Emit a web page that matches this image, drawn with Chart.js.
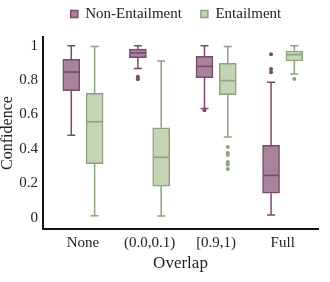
<!DOCTYPE html>
<html><head><meta charset="utf-8">
<script src="https://cdn.jsdelivr.net/npm/chart.js@4"></script>
<style>html,body{margin:0;padding:0;background:#fff}#wrap{width:330px;height:282px;position:relative}</style>
</head><body><div id="wrap"><canvas id="c"></canvas></div>
<script>
const categories = ['None', '(0.0,0.1)', '[0.9,1)', 'Full'];
const seriesNames = ['Non-Entailment', 'Entailment'];

const neMin = [0.48, 0.868, 0.635, 0.015];
const neQ1  = [0.738, 0.93, 0.814, 0.142];
const neMed = [0.847, 0.958, 0.88, 0.246];
const neQ3  = [0.921, 0.98, 0.938, 0.421];
const neMax = [1.0, 1.0, 1.0, 0.787];
const neOutliers = [[], [0.82, 0.805], [0.625], [0.95, 0.865, 0.845]];

const eMin = [0.012, 0.01, 0.469, 0.835];
const eQ1  = [0.314, 0.184, 0.715, 0.911];
const eMed = [0.558, 0.351, 0.797, 0.948];
const eQ3  = [0.723, 0.523, 0.898, 0.969];
const eMax = [0.995, 0.911, 0.995, 1.0];
const eOutliers = [[], [], [0.411, 0.376, 0.365, 0.324, 0.31, 0.283], [0.806]];

const tickValues = [0, 0.2, 0.4, 0.6, 0.8, 1];
const tickLabels = ['0', '0.2', '0.4', '0.6', '0.8', '1'];

const OFF = 0.175;
const NE_FILL = '#a9829c', NE_LINE = '#7a4a6b';
const E_FILL = '#c4d4b4', E_LINE = '#8da27e';
const FONT = 'Liberation Serif';

function boxData(q1, q3, sign) {
  return categories.map((c, i) => ({x: i + sign * OFF, y: [q1[i], q3[i]]}));
}
function outlierData(out, sign) {
  const a = [];
  out.forEach((arr, i) => arr.forEach(v => a.push({x: i + sign * OFF, y: v})));
  return a;
}

const stats = [
  {min: neMin, med: neMed, max: neMax, q1: neQ1, q3: neQ3, color: NE_LINE},
  {min: eMin, med: eMed, max: eMax, q1: eQ1, q3: eQ3, color: E_LINE}
];

const boxPlugin = {
  id: 'boxparts',
  afterLayout(chart) {
    const lg = chart.legend;
    if (lg) { lg.left += 17; lg.right += 17; lg.top -= 5.5; lg.bottom -= 5.5; }
  },
  beforeDatasetsDraw(chart) {
    const ctx = chart.ctx, y = chart.scales.y;
    ctx.save();
    stats.forEach((s, d) => {
      const meta = chart.getDatasetMeta(d);
      meta.data.forEach((bar, i) => {
        const x = bar.x;
        ctx.strokeStyle = s.color;
        ctx.lineWidth = 1.5;
        ctx.beginPath();
        ctx.moveTo(x, y.getPixelForValue(s.max[i]));
        ctx.lineTo(x, y.getPixelForValue(s.q3[i]));
        ctx.moveTo(x, y.getPixelForValue(s.q1[i]));
        ctx.lineTo(x, y.getPixelForValue(s.min[i]));
        const cw = 4;
        const yt = y.getPixelForValue(s.max[i]), yb = y.getPixelForValue(s.min[i]);
        ctx.moveTo(x - cw, yt); ctx.lineTo(x + cw, yt);
        ctx.moveTo(x - cw, yb); ctx.lineTo(x + cw, yb);
        ctx.stroke();
      });
    });
    ctx.restore();
  },
  afterDatasetsDraw(chart) {
    const ctx = chart.ctx, y = chart.scales.y;
    ctx.save();
    stats.forEach((s, d) => {
      const meta = chart.getDatasetMeta(d);
      meta.data.forEach((bar, i) => {
        const hw = bar.width / 2;
        const ym = y.getPixelForValue(s.med[i]);
        ctx.strokeStyle = s.color;
        ctx.lineWidth = 1.6;
        ctx.beginPath();
        ctx.moveTo(bar.x - hw + 1, ym);
        ctx.lineTo(bar.x + hw - 1, ym);
        ctx.stroke();
      });
    });
    ctx.restore();
  }
};

new Chart(document.getElementById('c'), {
  type: 'bar',
  data: {
    datasets: [
      {label: seriesNames[0], data: boxData(neQ1, neQ3, -1), backgroundColor: NE_FILL, borderColor: NE_LINE,
       borderWidth: 1.5, borderSkipped: false, barThickness: 17, grouped: false},
      {label: seriesNames[1], data: boxData(eQ1, eQ3, 1), backgroundColor: E_FILL, borderColor: E_LINE,
       borderWidth: 1.5, borderSkipped: false, barThickness: 17, grouped: false},
      {type: 'scatter', label: 'neOut', data: outlierData(neOutliers, -1), backgroundColor: NE_LINE,
       borderColor: NE_LINE, pointRadius: 2, borderWidth: 0},
      {type: 'scatter', label: 'eOut', data: outlierData(eOutliers, 1), backgroundColor: E_LINE,
       borderColor: E_LINE, pointRadius: 2, borderWidth: 0}
    ]
  },
  options: {
    responsive: true,
    maintainAspectRatio: false,
    animation: false,
    devicePixelRatio: 1,
    layout: {padding: {top: -7, right: 12, left: 0, bottom: 0}},
    plugins: {
      tooltip: {enabled: false},
      legend: {
        position: 'top',
        labels: {
          font: {family: FONT, size: 15},
          color: '#222',
          boxWidth: 7, boxHeight: 7,
          padding: 19,
          filter: (item) => item.datasetIndex < 2
        }
      }
    },
    scales: {
      x: {
        type: 'linear', min: -0.6, max: 3.53, offset: false,
        grid: {display: false, drawTicks: false},
        border: {display: true, color: '#111', width: 2},
        afterBuildTicks: (s) => { s.ticks = categories.map((c, i) => ({value: i})); },
        afterFit: (s) => { s.height = 53; },
        ticks: {
          font: {family: FONT, size: 15}, color: '#222', padding: 5, maxRotation: 0, autoSkip: false,
          callback: (v) => categories[v]
        },
        title: {display: true, text: 'Overlap', font: {family: FONT, size: 17}, color: '#222', padding: {top: 0, bottom: 8}}
      },
      y: {
        type: 'linear', min: -0.0657, max: 1.0506,
        grid: {display: false, drawTicks: false},
        border: {display: true, color: '#111', width: 2},
        afterBuildTicks: (s) => { s.ticks = tickValues.map(v => ({value: v})); },
        afterFit: (s) => { s.width = 43; },
        ticks: {
          font: {family: FONT, size: 15}, color: '#222', padding: 5,
          callback: (v) => tickLabels[tickValues.indexOf(v)]
        },
        title: {display: true, text: 'Confidence', font: {family: FONT, size: 16, lineHeight: 1}, color: '#222', padding: {top: 0, bottom: 0}}
      }
    }
  },
  plugins: [boxPlugin]
});
</script>
</body></html>
